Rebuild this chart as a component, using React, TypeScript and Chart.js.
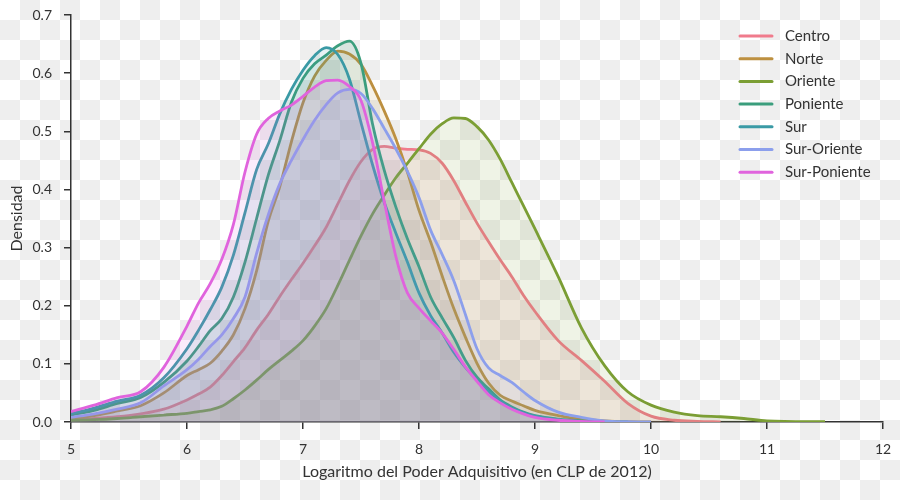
import React, { useEffect, useRef } from "react";
import { Chart, registerables } from "chart.js";

Chart.register(...registerables);

const xs = [5.0, 5.2, 5.4, 5.6, 5.8, 6.0, 6.1, 6.2, 6.3, 6.4, 6.5, 6.6, 6.7, 6.8, 6.9, 7.0, 7.1, 7.2, 7.3, 7.4, 7.5, 7.6, 7.7, 7.8, 7.9, 8.0, 8.1, 8.2, 8.3, 8.4, 8.5, 8.6, 8.7, 8.8, 8.9, 9.0, 9.2, 9.4, 9.6, 9.8, 10.0, 10.2, 10.4, 10.6, 10.8, 11.0, 11.5, 12.0];

const centro = [0.004, 0.006, 0.009, 0.014, 0.022, 0.038, 0.048, 0.06, 0.08, 0.104, 0.128, 0.158, 0.185, 0.216, 0.245, 0.273, 0.303, 0.335, 0.375, 0.415, 0.448, 0.469, 0.474, 0.471, 0.469, 0.468, 0.462, 0.445, 0.415, 0.378, 0.342, 0.31, 0.279, 0.25, 0.218, 0.19, 0.14, 0.106, 0.07, 0.032, 0.01, 0.003, 0.001, 0.0003, null, null, null, null];
const norte = [0.006, 0.011, 0.019, 0.028, 0.05, 0.08, 0.09, 0.101, 0.122, 0.15, 0.195, 0.26, 0.345, 0.405, 0.482, 0.549, 0.595, 0.622, 0.638, 0.633, 0.615, 0.578, 0.535, 0.487, 0.43, 0.364, 0.31, 0.251, 0.195, 0.146, 0.101, 0.067, 0.046, 0.036, 0.028, 0.02, 0.011, 0.005, 0.002, 0.0005, 0.0, null, null, null, null, null, null, null];
const oriente = [0.003, 0.004, 0.006, 0.009, 0.012, 0.015, 0.018, 0.021, 0.027, 0.04, 0.055, 0.072, 0.09, 0.106, 0.122, 0.14, 0.165, 0.195, 0.235, 0.278, 0.32, 0.358, 0.39, 0.42, 0.445, 0.47, 0.495, 0.513, 0.523, 0.522, 0.508, 0.485, 0.452, 0.412, 0.372, 0.332, 0.25, 0.162, 0.097, 0.052, 0.029, 0.017, 0.011, 0.009, 0.006, 0.002, 0.0005, null];
const poniente = [0.012, 0.02, 0.032, 0.042, 0.068, 0.105, 0.13, 0.157, 0.178, 0.215, 0.275, 0.35, 0.424, 0.484, 0.55, 0.591, 0.616, 0.631, 0.647, 0.655, 0.617, 0.512, 0.433, 0.37, 0.315, 0.267, 0.215, 0.179, 0.145, 0.106, 0.077, 0.057, 0.038, 0.026, 0.017, 0.011, 0.005, 0.002, 0.0005, 0.0, null, null, null, null, null, null, null, null];
const sur = [0.014, 0.024, 0.036, 0.046, 0.076, 0.126, 0.158, 0.193, 0.232, 0.287, 0.36, 0.434, 0.478, 0.53, 0.572, 0.605, 0.63, 0.644, 0.632, 0.59, 0.515, 0.442, 0.378, 0.325, 0.275, 0.222, 0.183, 0.153, 0.12, 0.094, 0.072, 0.052, 0.036, 0.024, 0.016, 0.01, 0.004, 0.001, 0.0, null, null, null, null, null, null, null, null, null];
const surOriente = [0.008, 0.014, 0.022, 0.033, 0.062, 0.09, 0.108, 0.13, 0.15, 0.178, 0.215, 0.29, 0.356, 0.41, 0.45, 0.486, 0.519, 0.546, 0.566, 0.572, 0.565, 0.539, 0.505, 0.47, 0.431, 0.386, 0.33, 0.288, 0.243, 0.185, 0.126, 0.093, 0.08, 0.068, 0.052, 0.037, 0.017, 0.008, 0.002, 0.0005, 0.0, null, null, null, null, null, null, null];
const surPoniente = [0.018, 0.029, 0.042, 0.052, 0.094, 0.165, 0.205, 0.238, 0.28, 0.34, 0.43, 0.495, 0.522, 0.535, 0.545, 0.56, 0.576, 0.587, 0.588, 0.577, 0.553, 0.48, 0.38, 0.285, 0.222, 0.196, 0.174, 0.153, 0.125, 0.095, 0.07, 0.047, 0.033, 0.022, 0.014, 0.008, 0.003, 0.001, 0.0, null, null, null, null, null, null, null, null, null];

const seriesNames = ["Centro", "Norte", "Oriente", "Poniente", "Sur", "Sur-Oriente", "Sur-Poniente"];
const seriesValues = [centro, norte, oriente, poniente, sur, surOriente, surPoniente];
const seriesColors = ["#f07b8c", "#bd9040", "#7b9e34", "#3b9e7d", "#3a9aa5", "#8c9fec", "#e063dd"];
const seriesFills = [
  "rgba(240,123,140,0.12)",
  "rgba(189,144,64,0.12)",
  "rgba(123,158,52,0.12)",
  "rgba(59,158,125,0.12)",
  "rgba(58,154,165,0.12)",
  "rgba(140,159,236,0.12)",
  "rgba(224,99,221,0.12)",
];

const yTicks = [0, 0.1, 0.2, 0.3, 0.4, 0.5, 0.6, 0.7];
const xTicks = [5, 6, 7, 8, 9, 10, 11, 12];

const FONT = "Lato, 'Noto Sans', sans-serif";
const TXT = "#333333";

const legendPlugin = {
  id: "customLegend",
  afterDraw(chart: any) {
    const ctx = chart.ctx;
    const ds = chart.data.datasets;
    ctx.save();
    ctx.font = `15px ${FONT}`;
    ctx.textBaseline = "middle";
    ctx.textAlign = "left";
    for (let i = 0; i < ds.length; i++) {
      const y = 36 + i * 22.7;
      ctx.strokeStyle = ds[i].borderColor;
      ctx.lineWidth = 3;
      ctx.lineCap = "round";
      ctx.beginPath();
      ctx.moveTo(740, y);
      ctx.lineTo(772, y);
      ctx.stroke();
      ctx.fillStyle = TXT;
      ctx.fillText(ds[i].label, 785, y);
    }
    ctx.restore();
  },
};

export default function App() {
  const ref = useRef<HTMLCanvasElement | null>(null);
  useEffect(() => {
    if (!ref.current) return;
    const n = seriesNames.length;
    const datasets = seriesNames.map((name, i) => ({
      label: name,
      data: xs
        .map((x, j) => ({ x, y: seriesValues[i][j] }))
        .filter((p) => p.y !== null),
      borderColor: seriesColors[i],
      backgroundColor: seriesFills[i],
      borderWidth: 2.8,
      pointRadius: 0,
      fill: "origin",
      cubicInterpolationMode: "monotone" as const,
      order: n - i,
    }));
    const chart = new Chart(ref.current, {
      type: "line",
      data: { datasets },
      options: {
        animation: false,
        responsive: false,
        events: [],
        layout: { padding: { top: 15, right: 17, left: 0, bottom: 0 } },
        plugins: { legend: { display: false }, tooltip: { enabled: false } },
        scales: {
          x: {
            type: "linear",
            min: 5,
            max: 12,
            afterFit(scale: any) {
              scale.height = 78;
              scale.paddingLeft = 0;
              scale.paddingRight = 0;
            },
            afterBuildTicks(scale: any) {
              scale.ticks = xTicks.map((v) => ({ value: v }));
            },
            ticks: {
              color: TXT,
              font: { family: FONT, size: 14 },
              padding: 12,
              callback: (v: any) => String(v),
            },
            grid: { display: true, drawOnChartArea: false, drawTicks: true, tickLength: 7, color: TXT, lineWidth: 1.5 },
            border: { display: true, color: TXT, width: 1.5 },
            title: {
              display: true,
              text: "Logaritmo del Poder Adquisitivo (en CLP de 2012)",
              color: TXT,
              font: { family: FONT, size: 16 },
              padding: { top: 0, bottom: 19 },
            },
          },
          y: {
            type: "linear",
            min: 0,
            max: 0.7,
            afterFit(scale: any) {
              scale.width = 71;
              scale.paddingTop = 0;
              scale.paddingBottom = 0;
            },
            afterBuildTicks(scale: any) {
              scale.ticks = yTicks.map((v) => ({ value: v }));
            },
            ticks: {
              color: TXT,
              font: { family: FONT, size: 14 },
              padding: 12,
              callback: (v: any) => Number(v).toFixed(1),
            },
            grid: { display: true, drawOnChartArea: false, drawTicks: true, tickLength: 7, color: TXT, lineWidth: 1.5 },
            border: { display: true, color: TXT, width: 1.5 },
            title: {
              display: true,
              text: "Densidad",
              color: TXT,
              font: { family: FONT, size: 16 },
              padding: { top: 7, bottom: 0 },
            },
          },
        },
      },
      plugins: [legendPlugin],
    });
    return () => chart.destroy();
  }, []);

  return (
    <div
      style={{
        position: "absolute",
        left: 0,
        top: 0,
        width: 900,
        height: 500,
        backgroundColor: "#ffffff",
        backgroundImage: "repeating-conic-gradient(#eeeeee 0% 25%, #ffffff 0% 50%)",
        backgroundSize: "40px 40px",
        backgroundPosition: "0 0",
      }}
    >
      <canvas ref={ref} width={900} height={500} style={{ display: "block" }} />
    </div>
  );
}
